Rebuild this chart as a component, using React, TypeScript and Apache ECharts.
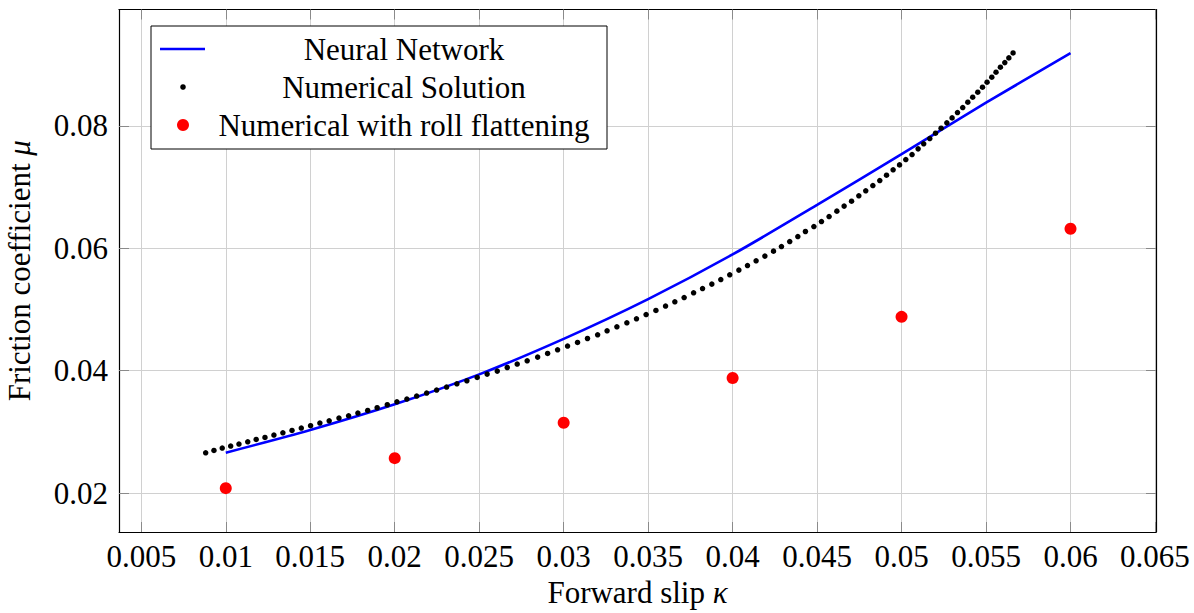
import React, { useEffect, useRef } from "react";
import * as echarts from "echarts";

const X_TICKS = [0.005, 0.01, 0.015, 0.02, 0.025, 0.03, 0.035, 0.04, 0.045, 0.05, 0.055, 0.06, 0.065];
const Y_TICKS = [0.02, 0.04, 0.06, 0.08];

const NN_X = [0.01, 0.015, 0.02, 0.025, 0.03, 0.035, 0.04, 0.045, 0.05, 0.055, 0.06];
const NN_Y = [0.0266, 0.0303, 0.0345, 0.0394, 0.0452, 0.0517, 0.0590, 0.0671, 0.0754, 0.0838, 0.0919];

const NUM_X = [
  0.00881, 0.0093, 0.00979, 0.01029, 0.01078, 0.0113, 0.0118, 0.01232, 0.01285, 0.01338,
  0.01392, 0.01447, 0.01502, 0.01557, 0.01612, 0.0167, 0.01727, 0.01782, 0.0184, 0.01896,
  0.01956, 0.02013, 0.02072, 0.0213, 0.02189, 0.02248, 0.02307, 0.02368, 0.02427, 0.02488,
  0.02547, 0.02607, 0.02666, 0.02725, 0.02784, 0.02846, 0.02905, 0.02964, 0.03023, 0.03082,
  0.03141, 0.03201, 0.03257, 0.03315, 0.03374, 0.03431, 0.03488, 0.03546, 0.03603, 0.03658,
  0.03713, 0.03769, 0.03822, 0.03877, 0.0393, 0.03983, 0.04037, 0.04088, 0.04139, 0.04191,
  0.04242, 0.04289, 0.04338, 0.04386, 0.04431, 0.04481, 0.04526, 0.04571, 0.04617, 0.0466,
  0.04704, 0.04747, 0.04788, 0.0483, 0.04871, 0.04911, 0.0495, 0.04988, 0.05025, 0.05062,
  0.05098, 0.05131, 0.05167, 0.05201, 0.05234, 0.05268, 0.05299, 0.05331, 0.05362, 0.05392,
  0.05421, 0.05451, 0.05479, 0.05506, 0.05534, 0.05559, 0.05585, 0.05611, 0.05635, 0.0566,
];
const NUM_Y = [
  0.02658, 0.02696, 0.02735, 0.02768, 0.02801, 0.02838, 0.02876, 0.02908, 0.02948, 0.02985,
  0.03023, 0.03062, 0.031, 0.03144, 0.03181, 0.03225, 0.03263, 0.03307, 0.0335, 0.03394,
  0.03443, 0.03492, 0.03536, 0.03585, 0.03634, 0.03683, 0.03732, 0.03786, 0.03835, 0.03889,
  0.03944, 0.03993, 0.04052, 0.04108, 0.04162, 0.04222, 0.04281, 0.04342, 0.04402, 0.04461,
  0.04526, 0.04587, 0.04652, 0.04717, 0.04783, 0.04848, 0.04918, 0.04984, 0.05056, 0.05126,
  0.05196, 0.05273, 0.05343, 0.05415, 0.0549, 0.05567, 0.05644, 0.05719, 0.05796, 0.05873,
  0.05954, 0.06029, 0.06111, 0.06193, 0.06275, 0.06356, 0.06438, 0.0652, 0.06608, 0.0669,
  0.06771, 0.06858, 0.0694, 0.07026, 0.07108, 0.07196, 0.07283, 0.07364, 0.07451, 0.07533,
  0.07626, 0.07708, 0.07794, 0.07882, 0.07964, 0.08051, 0.08132, 0.08219, 0.08301, 0.08389,
  0.08471, 0.08552, 0.08634, 0.08716, 0.08797, 0.08879, 0.08961, 0.09036, 0.09113, 0.09194,
];

const ROLL_X = [0.01, 0.02, 0.03, 0.04, 0.05, 0.06];
const ROLL_Y = [0.0208, 0.0257, 0.0315, 0.0388, 0.0488, 0.0632];

const LEGEND_LABELS = ["Neural Network", "Numerical Solution", "Numerical with roll flattening"];

const FONT = "'Liberation Serif', 'Times New Roman', serif";
const FS = 31;
const X_MIN = 0.00368;
const X_MAX = 0.06506;
const Y_MIN = 0.01363;
const Y_MAX = 0.09904;

const fmt = (v: number) => String(+v.toFixed(4));

export default function App() {
  const ref = useRef<HTMLDivElement>(null);
  useEffect(() => {
    if (!ref.current) return;
    const chart = echarts.init(ref.current, null, { renderer: "svg" });
    const zip = (xs: number[], ys: number[]) => xs.map((x, i) => [x, ys[i]]);
    const tickStyle = { show: true, inside: true, length: 10, lineStyle: { color: "#8a8a8a", width: 1 } };
    const gridLine = { show: true, lineStyle: { color: "#d0d0d0", width: 1 } };
    const axisLine = { show: true, onZero: false, lineStyle: { color: "#000", width: 1.2 } };
    const legendX = 151;
    const legendY = 26;
    const rowY = [49, 87, 125];
    const textCx = 404;
    chart.setOption({
      animation: false,
      grid: { left: 119, top: 9.5, right: 38, bottom: 81, containLabel: false, outerBoundsMode: "none" },
      xAxis: [
        {
          type: "value",
          min: X_MIN,
          max: X_MAX,
          axisLine,
          axisTick: { ...tickStyle, customValues: X_TICKS },
          axisLabel: {
            customValues: X_TICKS,
            formatter: fmt,
            fontFamily: FONT,
            fontSize: FS,
            color: "#000",
            margin: 9,
          },
          splitLine: gridLine,
          name: "{a|Forward slip }{i|κ}",
          nameLocation: "middle",
          nameGap: 44,
          nameTextStyle: {
            rich: {
              a: { fontFamily: FONT, fontSize: FS, color: "#000" },
              i: { fontFamily: FONT, fontSize: FS, color: "#000", fontStyle: "italic" },
            },
          },
        },
        {
          type: "value",
          position: "top",
          min: X_MIN,
          max: X_MAX,
          axisLine,
          axisTick: { ...tickStyle, customValues: X_TICKS },
          axisLabel: { show: false },
          splitLine: { show: false },
        },
      ],
      yAxis: [
        {
          type: "value",
          min: Y_MIN,
          max: Y_MAX,
          axisLine,
          axisTick: { ...tickStyle, customValues: Y_TICKS },
          axisLabel: {
            customValues: Y_TICKS,
            formatter: fmt,
            fontFamily: FONT,
            fontSize: FS,
            color: "#000",
            margin: 11,
          },
          splitLine: gridLine,
          name: "{a|Friction coefficient }{i|μ}",
          nameLocation: "middle",
          nameGap: 84,
          nameRotate: 90,
          nameTextStyle: {
            rich: {
              a: { fontFamily: FONT, fontSize: FS, color: "#000" },
              i: { fontFamily: FONT, fontSize: FS, color: "#000", fontStyle: "italic" },
            },
          },
        },
        {
          type: "value",
          position: "right",
          min: Y_MIN,
          max: Y_MAX,
          axisLine,
          axisTick: { ...tickStyle, customValues: Y_TICKS },
          axisLabel: { show: false },
          splitLine: { show: false },
        },
      ],
      series: [
        {
          name: LEGEND_LABELS[0],
          type: "line",
          data: zip(NN_X, NN_Y),
          showSymbol: false,
          smooth: 0.3,
          lineStyle: { color: "#0000ff", width: 2.6 },
          itemStyle: { color: "#0000ff" },
          z: 2,
        },
        {
          name: LEGEND_LABELS[1],
          type: "scatter",
          data: zip(NUM_X, NUM_Y),
          symbolSize: 5.5,
          itemStyle: { color: "#000", opacity: 1 },
          z: 3,
        },
        {
          name: LEGEND_LABELS[2],
          type: "scatter",
          data: zip(ROLL_X, ROLL_Y),
          symbolSize: 12,
          itemStyle: { color: "#ff0000", opacity: 1 },
          z: 4,
        },
      ],
      graphic: [
        {
          type: "rect",
          shape: { x: legendX, y: legendY, width: 456, height: 123 },
          style: { fill: "#fff", stroke: "#000", lineWidth: 1 },
          z: 100,
        },
        {
          type: "line",
          shape: { x1: 160, y1: rowY[0], x2: 205, y2: rowY[0] },
          style: { stroke: "#0000ff", lineWidth: 2.6 },
          z: 101,
        },
        {
          type: "circle",
          shape: { cx: 183, cy: rowY[1], r: 2.8 },
          style: { fill: "#000" },
          z: 101,
        },
        {
          type: "circle",
          shape: { cx: 183, cy: rowY[2], r: 6 },
          style: { fill: "#ff0000" },
          z: 101,
        },
        ...LEGEND_LABELS.map((t, i) => ({
          type: "text",
          x: textCx,
          y: rowY[i],
          style: {
            text: t,
            fontFamily: FONT,
            fontSize: FS,
            fill: "#000",
            align: "center",
            verticalAlign: "middle",
          },
          z: 101,
        })),
      ],
    });
    return () => chart.dispose();
  }, []);
  return (
    <div
      ref={ref}
      style={{ position: "fixed", left: 0, top: 0, width: 1194, height: 613, background: "#fff" }}
    />
  );
}
